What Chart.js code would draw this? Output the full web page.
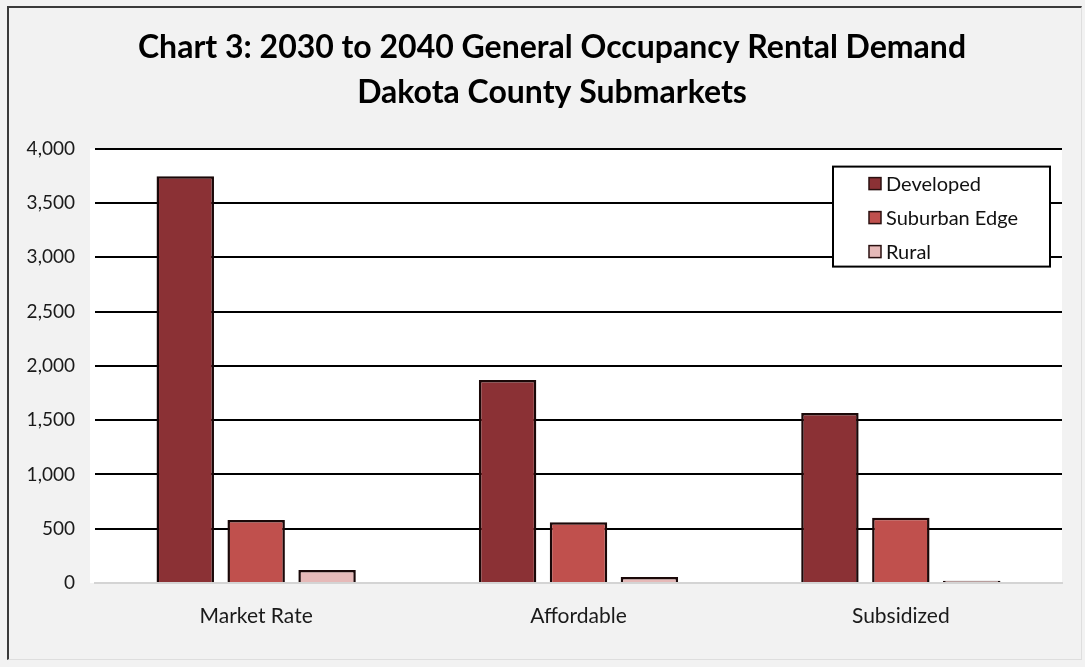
<!DOCTYPE html>
<html>
<head>
<meta charset="utf-8">
<script src="https://cdn.jsdelivr.net/npm/chart.js@4/dist/chart.umd.min.js"></script>
<style>
  html, body { margin: 0; padding: 0; background: #f2f2f2; overflow: hidden; }
  #frame {
    position: absolute; left: 7px; top: 6px; width: 1072px; height: 651px;
    border-top: 2px solid #3a3a3a; border-left: 2px solid #3a3a3a;
    border-right: 1px solid #dedede; border-bottom: 1px solid #dedede;
  }
  #chart { position: absolute; left: 0; top: 0; }
</style>
</head>
<body>
<div id="frame"></div>
<canvas id="chart" width="1085" height="667"></canvas>
<script>
// datos
const categories = ["Market Rate", "Affordable", "Subsidized"]
const seriesNames = ["Developed", "Suburban Edge", "Rural"]
const developed = [3745, 1870, 1565]
const suburbanEdge = [580, 560, 600]
const rural = [120, 55, 20]
const yTicks = [0, 500, 1000, 1500, 2000, 2500, 3000, 3500, 4000]

const colors = ["#8b3135", "#c0504d", "#e6b9b8"]

// fondo blanco del area de trazado
const plotBackground = {
    id: "plotBackground",
    beforeDraw: (chart) => {
        const { ctx, chartArea } = chart
        ctx.save()
        ctx.fillStyle = "#ffffff"
        ctx.fillRect(chartArea.left - 5, chartArea.top, chartArea.right - chartArea.left + 5, chartArea.bottom - chartArea.top)
        ctx.restore()
    }
}

// leyenda con recuadro dentro del area
const boxLegend = {
    id: "boxLegend",
    afterDraw: (chart) => {
        const { ctx, chartArea } = chart
        const w = 217, h = 100
        const x = chartArea.right - 12 - w
        const y = chartArea.top + 18
        ctx.save()
        ctx.fillStyle = "#ffffff"
        ctx.fillRect(x, y, w, h)
        ctx.lineWidth = 2
        ctx.strokeStyle = "#000000"
        ctx.strokeRect(x, y, w, h)
        ctx.font = "20px Lato"
        ctx.textBaseline = "middle"
        chart.data.datasets.forEach((ds, i) => {
            const cy = y + 17 + i * 34
            ctx.fillStyle = ds.backgroundColor
            ctx.fillRect(x + 36, cy - 6, 12, 12)
            ctx.lineWidth = 1.5
            ctx.strokeStyle = "#2a1010"
            ctx.strokeRect(x + 36, cy - 6, 12, 12)
            ctx.fillStyle = "#111111"
            ctx.fillText(ds.label, x + 53, cy + 1)
        })
        ctx.restore()
    }
}

const seriesData = [developed, suburbanEdge, rural]

new Chart(document.getElementById("chart").getContext("2d"), {
    type: "bar",
    data: {
        labels: categories,
        datasets: seriesNames.map((name, i) => ({
            label: name,
            data: seriesData[i],
            backgroundColor: colors[i],
            borderColor: "#1a0808",
            borderWidth: 2.5,
            categoryPercentage: 0.66,
            barPercentage: 0.81
        }))
    },
    options: {
        responsive: false,
        animation: false,
        layout: { padding: { left: 20, right: 1, top: 0, bottom: 0 } },
        plugins: {
            legend: { display: false },
            tooltip: { enabled: false },
            title: {
                display: true,
                text: ["Chart 3: 2030 to 2040 General Occupancy Rental Demand", "Dakota County Submarkets"],
                color: "#000000",
                font: { family: "Lato", size: 32, weight: "bold", lineHeight: 1.4 },
                padding: { top: 25, bottom: 34 }
            }
        },
        scales: {
            x: {
                grid: { display: false, drawTicks: false },
                border: { display: true, color: "#d4d4d4", width: 2 },
                ticks: { color: "#1a1a1a", font: { family: "Lato", size: 21 }, padding: 21 },
                afterFit: (scale) => { scale.height = 84 }
            },
            y: {
                min: 0,
                max: 4000,
                afterBuildTicks: (scale) => { scale.ticks = yTicks.map(v => ({ value: v })) },
                grid: {
                    drawTicks: false,
                    lineWidth: 2,
                    color: (c) => c.tick && c.tick.value === 0 ? "#d4d4d4" : "#000000"
                },
                border: { display: false },
                ticks: {
                    color: "#1a1a1a",
                    font: { family: "Lato", size: 19 },
                    padding: 20,
                    callback: (v) => v.toLocaleString("en-US")
                },
                afterFit: (scale) => { scale.width = 75 }
            },
            // eje vacio a la derecha para que el titulo quede centrado como en el original
            yRight: {
                position: "right",
                min: 0,
                max: 4000,
                grid: { display: false, drawTicks: false },
                border: { display: false },
                ticks: { display: false },
                afterFit: (scale) => { scale.width = 22 }
            }
        }
    },
    plugins: [plotBackground, boxLegend]
})
</script>
</body>
</html>
